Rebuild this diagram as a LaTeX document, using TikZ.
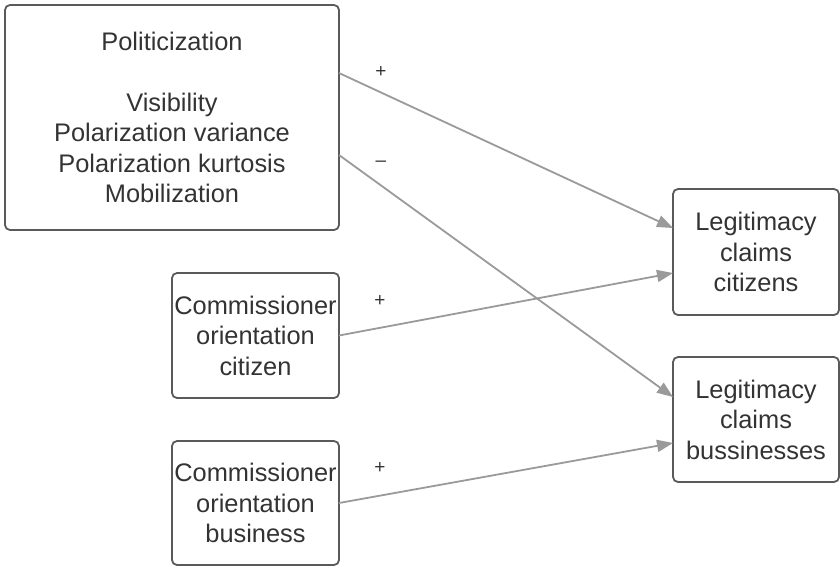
\documentclass[tikz,border=0pt]{standalone}
\usepackage{fontspec}
\setmainfont{Liberation Sans}
\usetikzlibrary{arrows.meta}
\definecolor{boxline}{HTML}{5A5A5A}
\definecolor{arrowline}{HTML}{9A9A9A}
\definecolor{txt}{HTML}{333333}
\tikzset{
  factor/.style={draw=boxline, line width=1.8pt, rounded corners=5pt, inner sep=0pt, outer sep=0pt,
    align=center, text=txt, font=\fontsize{25.4}{30.5}\selectfont},
  effect/.style={draw=arrowline, line width=1.8pt, -{Triangle[length=16pt,width=12pt]}},
  sign/.style={text=txt, font=\fontsize{19}{21}\selectfont, inner sep=0pt}
}
\begin{document}
\begin{tikzpicture}[x=1pt,y=-1pt]
\useasboundingbox (0,0) rectangle (840,568);
% independent variables
\node[factor, minimum width=334pt, minimum height=225pt] (pol) at (172,117.5)
  {Politicization\\[30.5pt]Visibility\\Polarization variance\\Polarization kurtosis\\Mobilization};
\node[factor, minimum width=167pt, minimum height=125pt] (comcit) at (255.5,335.5)
  {Commissioner\\orientation\\citizen};
\node[factor, minimum width=167pt, minimum height=124pt] (combus) at (255.5,503)
  {Commissioner\\orientation\\business};
% dependent variables
\node[factor, minimum width=166pt, minimum height=126pt] (legcit) at (756,252)
  {Legitimacy\\claims\\citizens};
\node[factor, minimum width=166pt, minimum height=125pt] (legbus) at (756,419.5)
  {Legitimacy\\claims\\bussinesses};
% effects
\draw[effect] ([yshift=44.5pt]pol.east) -- ([yshift=24pt]legcit.west);
\draw[effect] ([yshift=-37.5pt]pol.east) -- ([yshift=22.5pt]legbus.west);
\draw[effect] (comcit.east) -- ([yshift=-21pt]legcit.west);
\draw[effect] (combus.east) -- ([yshift=-23.5pt]legbus.west);
% signs of the effects
\node[sign] (s1) at (381,72) {+};
\node[sign] (s2) at (381,164) {–};
\node[sign] (s3) at (380,301) {+};
\node[sign] (s4) at (380,468) {+};
\end{tikzpicture}
\end{document}
